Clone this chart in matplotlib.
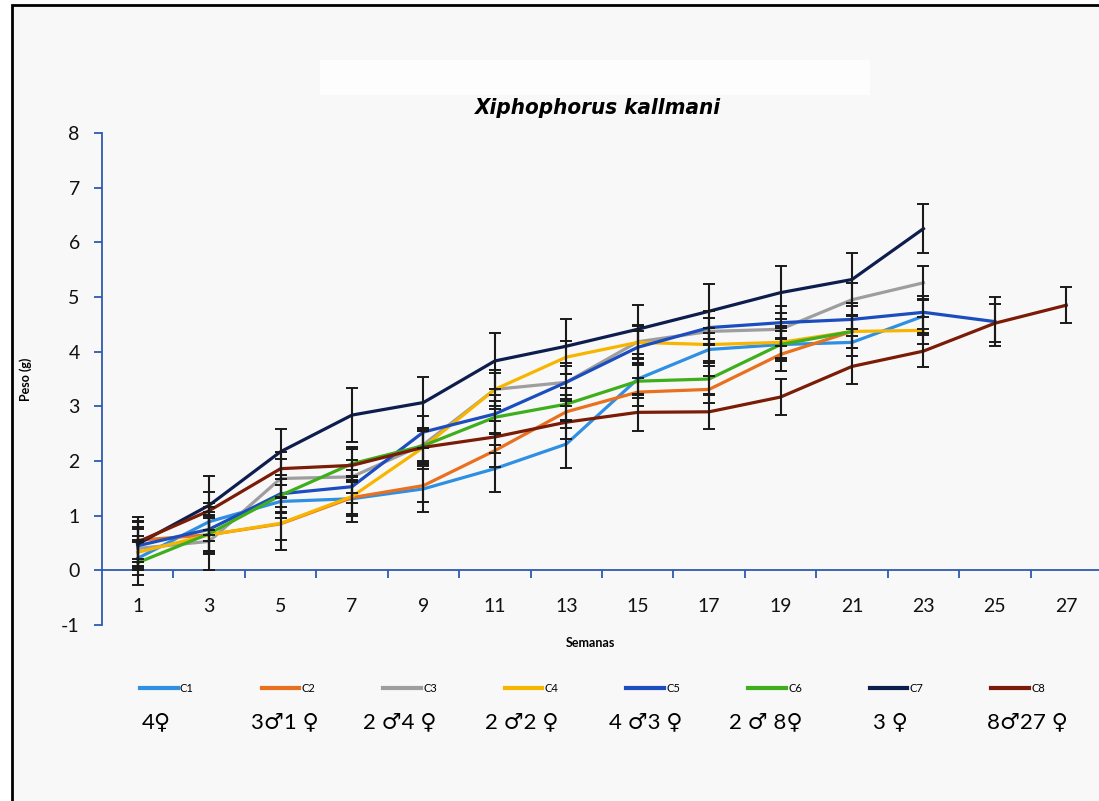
import matplotlib
matplotlib.use("Agg")
import matplotlib.pyplot as plt
from matplotlib.patches import Rectangle

plt.rcParams['font.family'] = ['Lato', 'DejaVu Sans']
plt.rcParams['axes.unicode_minus'] = False

weeks = [1, 3, 5, 7, 9, 11, 13, 15, 17, 19, 21, 23, 25, 27]
series = ['C1', 'C2', 'C3', 'C4', 'C5', 'C6', 'C7', 'C8']
groups = ['4♀', '3♂1 ♀', '2 ♂4 ♀', '2 ♂2 ♀', '4 ♂3 ♀', '2 ♂ 8♀', '3 ♀', '8♂27 ♀']

c1 = [0.22, 0.89, 1.26, 1.31, 1.49, 1.86, 2.31, 3.50, 4.04, 4.13, 4.17, 4.65]
c2 = [0.55, 0.65, 0.85, 1.33, 1.55, 2.19, 2.90, 3.26, 3.31, 3.95, 4.37]
c3 = [0.40, 0.53, 1.68, 1.71, 2.30, 3.31, 3.44, 4.18, 4.37, 4.41, 4.95, 5.26]
c4 = [0.33, 0.65, 0.86, 1.35, 2.25, 3.31, 3.90, 4.17, 4.13, 4.17, 4.37, 4.39]
c5 = [0.45, 0.75, 1.40, 1.53, 2.53, 2.86, 3.44, 4.08, 4.44, 4.53, 4.59, 4.72, 4.55]
c6 = [0.14, 0.67, 1.37, 1.95, 2.28, 2.80, 3.04, 3.46, 3.50, 4.13, 4.37]
c7 = [0.48, 1.19, 2.17, 2.84, 3.07, 3.83, 4.10, 4.41, 4.74, 5.08, 5.32, 6.25]
c8 = [0.52, 1.09, 1.86, 1.92, 2.25, 2.44, 2.71, 2.89, 2.90, 3.17, 3.73, 4.01, 4.52, 4.85]

e1 = [0.30, 0.35, 0.30, 0.42, 0.42, 0.43, 0.44, 0.30, 0.30, 0.25, 0.25, 0.30]
e2 = [0.35, 0.30, 0.30, 0.30, 0.30, 0.30, 0.30, 0.25, 0.25, 0.30, 0.30]
e3 = [0.40, 0.53, 0.35, 0.30, 0.30, 0.35, 0.30, 0.30, 0.25, 0.30, 0.30, 0.30]
e4 = [0.30, 0.35, 0.48, 0.35, 0.30, 0.30, 0.30, 0.30, 0.30, 0.30, 0.30, 0.25]
e5 = [0.30, 0.40, 0.35, 0.30, 0.30, 0.35, 0.35, 0.30, 0.30, 0.30, 0.30, 0.30, 0.45]
e6 = [0.41, 0.35, 0.30, 0.30, 0.30, 0.30, 0.30, 0.30, 0.30, 0.30, 0.30]
e7 = [0.40, 0.54, 0.42, 0.49, 0.46, 0.52, 0.50, 0.45, 0.50, 0.49, 0.49, 0.45]
e8 = [0.45, 0.35, 0.30, 0.30, 0.30, 0.30, 0.30, 0.34, 0.32, 0.33, 0.33, 0.29, 0.35, 0.33]

values = [c1, c2, c3, c4, c5, c6, c7, c8]
errors = [e1, e2, e3, e4, e5, e6, e7, e8]
colors = ['#2F8FE3', '#E8701F', '#9E9E9E', '#F7B500', '#1B4DBE', '#3FAE1C', '#0D1E4E', '#7A1C06']
axis_blue = '#2F5AAE'

fig = plt.figure(figsize=(10.99, 8.01), dpi=100, facecolor='white')

# framed panel and the blank box above the title
fig.patches.append(Rectangle((12 / 1099, -0.1), 1.2, 1 - 5 / 801 + 0.1,
                             transform=fig.transFigure, fc='#F8F8F8', ec='black',
                             lw=2, zorder=-10))
fig.patches.append(Rectangle((320 / 1099, 1 - 95 / 801), 550 / 1099, 35 / 801,
                             transform=fig.transFigure, fc='#FDFDFD', ec='none',
                             zorder=-9))

ax = fig.add_axes([102 / 1099, 176 / 801, 1000 / 1099, 492 / 801])
ax.set_facecolor('none')

handles = []
for name, y_vals, err, col in zip(series, values, errors, colors):
    n = len(y_vals)
    ln, = ax.plot(weeks[:n], y_vals, color=col, lw=2.3, label=name, zorder=2)
    ax.errorbar(weeks[:n], y_vals, yerr=err, fmt='none', ecolor='#1A1A1A',
                elinewidth=1.5, capsize=4, capthick=1.4, zorder=3)
    handles.append(ln)

ax.set_xlim(0, 28)
ax.set_ylim(-1, 8)

for s in ['top', 'right']:
    ax.spines[s].set_visible(False)
ax.spines['left'].set_color(axis_blue)
ax.spines['left'].set_linewidth(1.3)
ax.spines['bottom'].set_position(('data', 0))
ax.spines['bottom'].set_color(axis_blue)
ax.spines['bottom'].set_linewidth(1.3)

ax.set_yticks(range(-1, 9))
ax.tick_params(axis='y', direction='out', length=6, width=1.3, color=axis_blue,
               labelsize=14, pad=10, labelcolor='#111111')

ax.set_xticks(range(2, 28, 2))
ax.set_xticklabels([])
ax.set_xticks(weeks, minor=True)
ax.set_xticklabels([str(w) for w in weeks], minor=True)
ax.tick_params(axis='x', which='major', direction='out', length=6, width=1.3,
               color=axis_blue)
ax.tick_params(axis='x', which='minor', length=0, labelsize=14, pad=20,
               labelcolor='#111111')

ax.set_ylabel('Peso (g)', fontsize=9, fontweight='bold')
ax.yaxis.set_label_coords(-0.07, 0.5)
ax.set_xlabel('Semanas', fontsize=9, fontweight='bold')
ax.xaxis.set_label_coords(0.488, -0.037)
ax.xaxis.label.set_va('center')

fig.text(597 / 1099, 1 - 108 / 801, 'Xiphophorus kallmani', fontsize=16,
         fontweight='bold', fontstyle='italic', fontstretch='condensed',
         ha='center', va='center', family='DejaVu Sans')

leg = fig.legend(handles, series, loc='center left',
                 bbox_to_anchor=(140 / 1099, 1 - 688 / 801), ncol=8, frameon=False,
                 fontsize=8, handlelength=3.4, handletextpad=0.2, columnspacing=6.1,
                 borderpad=0, borderaxespad=0)
for lh in leg.get_lines():
    lh.set_linewidth(3)

group_x = [156, 285, 400, 522, 646, 766, 890, 1027]
for gx, g in zip(group_x, groups):
    fig.text(gx / 1099, 1 - 722 / 801, g, fontsize=16, ha='center', va='center')

fig.savefig('out.png', dpi=100, facecolor=fig.get_facecolor())
